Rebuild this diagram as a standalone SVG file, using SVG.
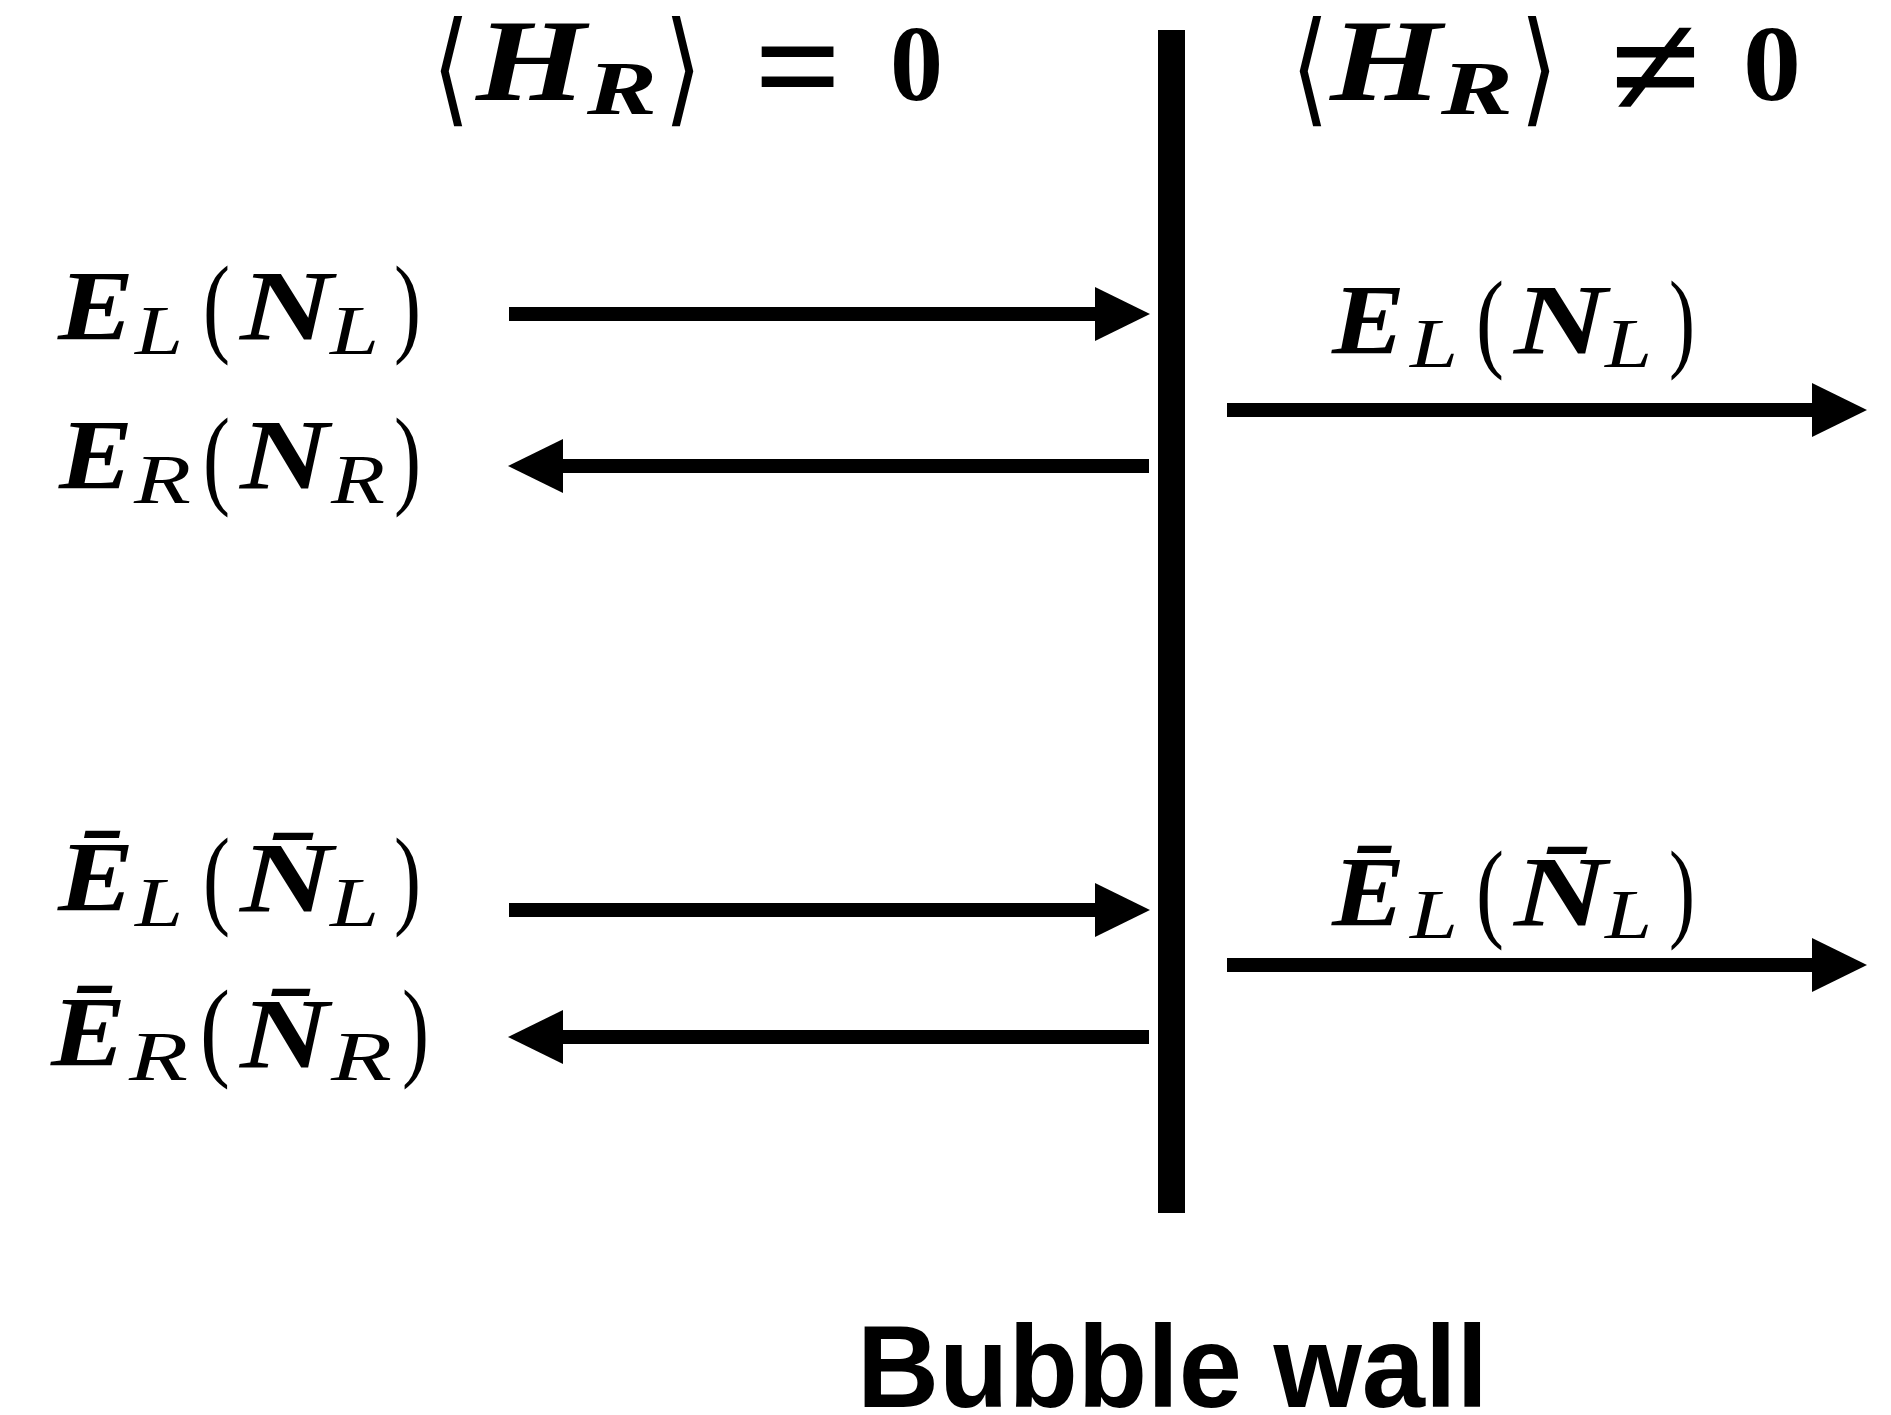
<svg xmlns="http://www.w3.org/2000/svg" width="1891" height="1415" viewBox="0 0 1891 1415">
<defs>
<style>
.b{font-family:"Liberation Serif",serif;font-style:italic;font-weight:bold;font-size:100px}
.i{font-family:"Liberation Serif",serif;font-style:italic;font-size:70px}
.ib{font-family:"Liberation Serif",serif;font-style:italic;font-weight:bold;font-size:76px}
.r{font-family:"Liberation Serif",serif;font-size:110px}
.rb{font-family:"Liberation Serif",serif;font-weight:bold}
.ang{font-family:"DejaVu Sans",sans-serif;font-size:124px}
.cap{font-family:"Liberation Sans",sans-serif;font-weight:bold;font-size:116px}
.sh{stroke:#000;stroke-width:14;fill:none}
</style>
<marker id="ah" markerUnits="userSpaceOnUse" markerWidth="56" markerHeight="56" refX="0" refY="27" orient="auto">
<path d="M0,0 L55,27 L0,54 z" fill="#000"/>
</marker>
</defs>
<rect width="1891" height="1415" fill="#fff"/>

<g id="wall"><rect x="1158" y="30" width="27" height="1183" fill="#000"/></g>

<g id="connectors">
<line class="sh" x1="509" y1="314" x2="1095" y2="314" marker-end="url(#ah)"/>
<line class="sh" x1="1149" y1="466" x2="563" y2="466" marker-end="url(#ah)"/>
<line class="sh" x1="1227" y1="410" x2="1812" y2="410" marker-end="url(#ah)"/>
<line class="sh" x1="509" y1="910" x2="1095" y2="910" marker-end="url(#ah)"/>
<line class="sh" x1="1149" y1="1037" x2="563" y2="1037" marker-end="url(#ah)"/>
<line class="sh" x1="1227" y1="965" x2="1812" y2="965" marker-end="url(#ah)"/>
</g>

<g id="label-top-left">
<text class="ang" x="432" y="110" textLength="38" lengthAdjust="spacingAndGlyphs">⟨</text>
<text class="b" x="476" y="100" style="font-size:116px" textLength="110" lengthAdjust="spacingAndGlyphs">H</text>
<text class="ib" x="587" y="114" textLength="70" lengthAdjust="spacingAndGlyphs">R</text>
<text class="ang" x="664" y="110" textLength="38" lengthAdjust="spacingAndGlyphs">⟩</text>
<text class="rb" x="754" y="117" style="font-size:150px" textLength="88" lengthAdjust="spacingAndGlyphs">=</text>
<text class="rb" x="890" y="100" style="font-size:108px" textLength="53" lengthAdjust="spacingAndGlyphs">0</text>
</g>

<g id="label-top-right">
<text class="ang" x="1291" y="110" textLength="38" lengthAdjust="spacingAndGlyphs">⟨</text>
<text class="b" x="1330" y="100" style="font-size:116px" textLength="112" lengthAdjust="spacingAndGlyphs">H</text>
<text class="ib" x="1441" y="114" textLength="72" lengthAdjust="spacingAndGlyphs">R</text>
<text class="ang" x="1520" y="110" textLength="38" lengthAdjust="spacingAndGlyphs">⟩</text>
<text class="rb" x="1610" y="117" style="font-size:150px" textLength="91" lengthAdjust="spacingAndGlyphs">≠</text>
<text class="rb" x="1743" y="100" style="font-size:108px" textLength="58" lengthAdjust="spacingAndGlyphs">0</text>
</g>

<g id="node-EL">
<text class="b" x="58" y="339" textLength="76" lengthAdjust="spacingAndGlyphs">E</text>
<text class="i" x="135" y="354" textLength="48" lengthAdjust="spacingAndGlyphs">L</text>
<text class="r" x="203" y="342" textLength="27" lengthAdjust="spacingAndGlyphs">(</text>
<text class="b" x="240" y="339" textLength="93" lengthAdjust="spacingAndGlyphs">N</text>
<text class="i" x="330" y="354" textLength="49" lengthAdjust="spacingAndGlyphs">L</text>
<text class="r" x="394" y="342" textLength="27" lengthAdjust="spacingAndGlyphs">)</text>
</g>

<g id="node-ER">
<text class="b" x="59" y="488" textLength="74" lengthAdjust="spacingAndGlyphs">E</text>
<text class="i" x="134" y="503" textLength="57" lengthAdjust="spacingAndGlyphs">R</text>
<text class="r" x="203" y="494" textLength="27" lengthAdjust="spacingAndGlyphs">(</text>
<text class="b" x="240" y="488" textLength="89" lengthAdjust="spacingAndGlyphs">N</text>
<text class="i" x="331" y="503" textLength="54" lengthAdjust="spacingAndGlyphs">R</text>
<text class="r" x="394" y="494" textLength="27" lengthAdjust="spacingAndGlyphs">)</text>
</g>

<g id="node-EL-bar">
<text class="b" x="58" y="910" textLength="76" lengthAdjust="spacingAndGlyphs">Ē</text>
<text class="i" x="135" y="926" textLength="48" lengthAdjust="spacingAndGlyphs">L</text>
<text class="r" x="203" y="914" textLength="27" lengthAdjust="spacingAndGlyphs">(</text>
<text class="b" x="240" y="911" textLength="93" lengthAdjust="spacingAndGlyphs">N̄</text>
<text class="i" x="330" y="926" textLength="49" lengthAdjust="spacingAndGlyphs">L</text>
<text class="r" x="394" y="914" textLength="27" lengthAdjust="spacingAndGlyphs">)</text>
</g>

<g id="node-ER-bar">
<text class="b" x="51" y="1065" textLength="75" lengthAdjust="spacingAndGlyphs">Ē</text>
<text class="i" x="129" y="1080" textLength="59" lengthAdjust="spacingAndGlyphs">R</text>
<text class="r" x="200" y="1066" textLength="30" lengthAdjust="spacingAndGlyphs">(</text>
<text class="b" x="240" y="1067" textLength="89" lengthAdjust="spacingAndGlyphs">N̄</text>
<text class="i" x="331" y="1080" textLength="61" lengthAdjust="spacingAndGlyphs">R</text>
<text class="r" x="402" y="1066" textLength="27" lengthAdjust="spacingAndGlyphs">)</text>
</g>

<g id="node-EL-right">
<text class="b" x="1332" y="353" textLength="73" lengthAdjust="spacingAndGlyphs">E</text>
<text class="i" x="1410" y="367" textLength="48" lengthAdjust="spacingAndGlyphs">L</text>
<text class="r" x="1476" y="357" textLength="28" lengthAdjust="spacingAndGlyphs">(</text>
<text class="b" x="1514" y="353" textLength="93" lengthAdjust="spacingAndGlyphs">N</text>
<text class="i" x="1605" y="367" textLength="47" lengthAdjust="spacingAndGlyphs">L</text>
<text class="r" x="1669" y="357" textLength="26" lengthAdjust="spacingAndGlyphs">)</text>
</g>

<g id="node-EL-bar-right">
<text class="b" x="1332" y="925" textLength="73" lengthAdjust="spacingAndGlyphs">Ē</text>
<text class="i" x="1410" y="938" textLength="48" lengthAdjust="spacingAndGlyphs">L</text>
<text class="r" x="1476" y="927" textLength="28" lengthAdjust="spacingAndGlyphs">(</text>
<text class="b" x="1514" y="925" textLength="93" lengthAdjust="spacingAndGlyphs">N̄</text>
<text class="i" x="1605" y="938" textLength="47" lengthAdjust="spacingAndGlyphs">L</text>
<text class="r" x="1669" y="927" textLength="26" lengthAdjust="spacingAndGlyphs">)</text>
</g>

<g id="caption">
<text class="cap" x="857" y="1407" textLength="631" lengthAdjust="spacingAndGlyphs">Bubble wall</text>
</g>
</svg>
